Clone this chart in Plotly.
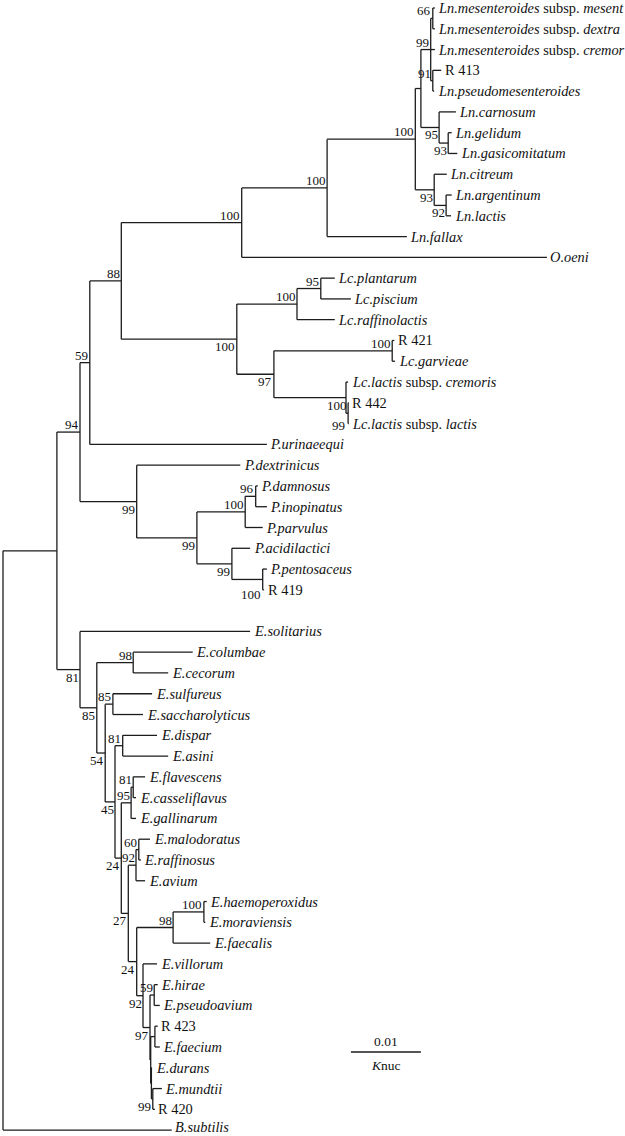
import plotly.graph_objects as go

# ---------------- data ----------------
# leaves (top to bottom); distance from root in 10^-3 substitutions/site
LEAF_IDS = [
    "mesent", "dextra", "cremor", "R413", "pseudomes", "carnosum", "gelidum",
    "gasicomitatum", "citreum", "argentinum", "Ln_lactis", "fallax", "oeni",
    "plantarum", "piscium", "raffinolactis", "R421", "garvieae", "Lc_cremoris",
    "R442", "Lc_lactis", "urinaeequi", "dextrinicus", "damnosus", "inopinatus",
    "parvulus", "acidilactici", "pentosaceus", "R419",
    "solitarius", "columbae", "cecorum", "sulfureus", "saccharolyticus", "dispar",
    "asini", "flavescens", "casseliflavus", "gallinarum", "malodoratus",
    "raffinosus", "avium", "haemoperoxidus", "moraviensis", "faecalis",
    "villorum", "hirae", "pseudoavium", "R423", "faecium", "durans", "mundtii",
    "R420", "subtilis",
]
LEAF_TEXT = [
    "<i>Ln.mesenteroides</i> subsp. <i>mesent</i>",
    "<i>Ln.mesenteroides</i> subsp. <i>dextra</i>",
    "<i>Ln.mesenteroides</i> subsp. <i>cremor</i>",
    "R 413", "<i>Ln.pseudomesenteroides</i>", "<i>Ln.carnosum</i>",
    "<i>Ln.gelidum</i>", "<i>Ln.gasicomitatum</i>", "<i>Ln.citreum</i>",
    "<i>Ln.argentinum</i>", "<i>Ln.lactis</i>", "<i>Ln.fallax</i>", "<i>O.oeni</i>",
    "<i>Lc.plantarum</i>", "<i>Lc.piscium</i>", "<i>Lc.raffinolactis</i>", "R 421",
    "<i>Lc.garvieae</i>", "<i>Lc.lactis</i> subsp. <i>cremoris</i>", "R 442",
    "<i>Lc.lactis</i> subsp. <i>lactis</i>", "<i>P.urinaeequi</i>",
    "<i>P.dextrinicus</i>", "<i>P.damnosus</i>", "<i>P.inopinatus</i>",
    "<i>P.parvulus</i>", "<i>P.acidilactici</i>", "<i>P.pentosaceus</i>", "R 419",
    "<i>E.solitarius</i>", "<i>E.columbae</i>", "<i>E.cecorum</i>",
    "<i>E.sulfureus</i>", "<i>E.saccharolyticus</i>", "<i>E.dispar</i>",
    "<i>E.asini</i>", "<i>E.flavescens</i>", "<i>E.casseliflavus</i>",
    "<i>E.gallinarum</i>", "<i>E.malodoratus</i>", "<i>E.raffinosus</i>",
    "<i>E.avium</i>", "<i>E.haemoperoxidus</i>", "<i>E.moraviensis</i>",
    "<i>E.faecalis</i>", "<i>E.villorum</i>", "<i>E.hirae</i>",
    "<i>E.pseudoavium</i>", "R 423", "<i>E.faecium</i>", "<i>E.durans</i>",
    "<i>E.mundtii</i>", "R 420", "<i>B.subtilis</i>",
]
LEAF_ROW = list(range(0, 29)) + list(range(30, 55))
LEAF_DIST = [
    61.7, 61.7, 61.7, 62.6, 61.6, 64.7, 64.1, 64.9, 63.4, 64.1, 64.0, 57.7, 77.7,
    47.4, 49.7, 47.4, 55.9, 56.0, 49.3, 49.4, 49.4, 37.7, 33.9, 36.4, 37.7,
    37.1, 35.3, 37.7, 37.3,
    35.3, 27.1, 23.6, 21.3, 20.0, 22.0, 23.6, 20.3, 19.0, 19.0, 21.0, 19.7,
    20.3, 29.1, 28.9, 29.6, 22.0, 22.1, 22.4, 22.1, 22.4, 21.3, 22.7, 21.7, 24.1,
]

# internal nodes: children (top to bottom), distance from root, bootstrap support
NODE_IDS = [
    "n66", "n91", "n99m", "n93", "n95", "nX", "n92", "n93b", "n100c", "n100b",
    "n100a", "Lc95", "Lc100b", "nR421", "nR442i", "nR442o", "Lc97", "Lc100",
    "n88", "n59", "P96", "P100", "P100b", "P99c", "P99b", "P99", "n94",
    "n98", "n85b", "n81b", "n81c", "n95E", "n60", "n92E", "n100E", "n98b",
    "n59E", "nRF", "n99b", "n_d", "n_c", "n97", "n92b", "n24b", "n27", "n24a",
    "n45", "n54", "n85a", "n81", "A", "root",
]
NODE_CHILDREN = [
    ["mesent", "dextra"], ["R413", "pseudomes"], ["n66", "cremor", "n91"],
    ["gelidum", "gasicomitatum"], ["carnosum", "n93"], ["n99m", "n95"],
    ["argentinum", "Ln_lactis"], ["citreum", "n92"], ["nX", "n93b"],
    ["n100c", "fallax"], ["n100b", "oeni"], ["plantarum", "piscium"],
    ["Lc95", "raffinolactis"], ["R421", "garvieae"], ["R442", "Lc_lactis"],
    ["Lc_cremoris", "nR442i"], ["nR421", "nR442o"], ["Lc100b", "Lc97"],
    ["n100a", "Lc100"], ["n88", "urinaeequi"], ["damnosus", "inopinatus"],
    ["P96", "parvulus"], ["pentosaceus", "R419"], ["acidilactici", "P100b"],
    ["P100", "P99c"], ["dextrinicus", "P99b"], ["n59", "P99"],
    ["columbae", "cecorum"], ["sulfureus", "saccharolyticus"], ["dispar", "asini"],
    ["flavescens", "casseliflavus"], ["n81c", "gallinarum"],
    ["malodoratus", "raffinosus"], ["n60", "avium"],
    ["haemoperoxidus", "moraviensis"], ["n100E", "faecalis"],
    ["hirae", "pseudoavium"], ["R423", "faecium"], ["mundtii", "R420"],
    ["durans", "n99b"], ["nRF", "n_d"], ["n59E", "n_c"], ["villorum", "n97"],
    ["n98b", "n92b"], ["n92E", "n24b"], ["n95E", "n27"], ["n81b", "n24a"],
    ["n85b", "n45"], ["n98", "n54"], ["solitarius", "n85a"], ["n94", "n81"],
    ["A", "subtilis"],
]
NODE_DIST = [
    61.4, 61.4, 61.1, 63.6, 62.3, 59.7, 63.3, 61.6, 58.9, 46.3,
    34.1, 45.4, 42.0, 55.6, 49.3, 49.0, 38.7, 33.4,
    16.9, 12.4, 36.1, 34.6, 37.1, 32.7, 27.7, 19.1, 11.0,
    18.6, 15.7, 17.1, 18.6, 18.3, 19.4, 19.0, 28.7, 24.3,
    21.6, 21.7, 21.4, 21.2, 21.1, 21.0, 20.0, 19.1, 17.9, 16.9,
    16.0, 14.6, 13.4, 11.0, 7.7, 0.0,
]
NODE_SUPPORT = [
    "66", "91", "99", "93", "95", "", "92", "93", "100", "100",
    "100", "95", "100", "100", "100", "99", "97", "100",
    "88", "59", "96", "100", "100", "99", "99", "99", "94",
    "98", "85", "81", "81", "95", "60", "92", "100", "98",
    "59", "", "99", "", "", "97", "92", "24", "27", "24",
    "45", "54", "85", "81", "", "",
]

SCALE_BAR_VALUE = 10.0          # 0.01 substitutions/site in 10^-3 units
SCALE_BAR_TEXT = "0.01"
SCALE_BAR_UNIT = "<i>K</i>nuc"

# ---------------- style ----------------
FONT = "Liberation Serif"
LINE_COLOR = "#1c1c1c"
BELOW = {"n93", "n95", "n93b", "n92", "nR442o", "Lc97", "Lc100", "P100b", "P99c",
         "P99b", "P99", "n99b", "n97", "n92b", "n24b", "n27", "n24a", "n45",
         "n54", "n85a", "n81"}
LABEL_YSHIFT = {"nR442o": -20, "P100b": -8}
LEAF_YSHIFT = {"subtilis": 3}
PX_PER_UNIT = 7.0
ROW_PX = 20.78
W, H = 625, 1136
SCALE_POS = (49.7, 50.24)   # left end of scale bar (distance units, row units)

# ---------------- layout of tree ----------------
pos = {}
for lid, d, r in zip(LEAF_IDS, LEAF_DIST, LEAF_ROW):
    pos[lid] = (d, r)
node_info = dict(zip(NODE_IDS, zip(NODE_CHILDREN, NODE_DIST, NODE_SUPPORT)))


def place(n):
    if n in pos:
        return pos[n]
    ch, d, _ = node_info[n]
    ys = [place(c)[1] for c in ch]
    pos[n] = (d, (ys[0] + ys[-1]) / 2.0)
    return pos[n]


place("root")

xs, ys = [], []
for nid in NODE_IDS:
    ch, d, _ = node_info[nid]
    cy = [pos[c][1] for c in ch]
    xs += [d, d, None]
    ys += [cy[0], cy[-1], None]
    for c in ch:
        xs += [d, pos[c][0], None]
        ys += [pos[c][1], pos[c][1], None]

fig = go.Figure()
fig.add_trace(go.Scatter(x=xs, y=ys, mode="lines",
                         line=dict(color=LINE_COLOR, width=1.3),
                         hoverinfo="skip", showlegend=False))

# scale bar
sx, sy = SCALE_POS
fig.add_trace(go.Scatter(x=[sx, sx + SCALE_BAR_VALUE], y=[sy, sy], mode="lines",
                         line=dict(color=LINE_COLOR, width=1.3),
                         hoverinfo="skip", showlegend=False))

ann = []
for lid, txt in zip(LEAF_IDS, LEAF_TEXT):
    d, r = pos[lid]
    ann.append(dict(x=d, y=r, text=txt, showarrow=False, xanchor="left",
                    yanchor="middle", xshift=1.5, yshift=LEAF_YSHIFT.get(lid, 0),
                    font=dict(family=FONT, size=14.4, color="#111")))
for nid in NODE_IDS:
    ch, d, sup = node_info[nid]
    if not sup:
        continue
    below = nid in BELOW
    ann.append(dict(x=d, y=pos[nid][1], text=sup, showarrow=False,
                    xanchor="right", yanchor="top" if below else "bottom",
                    xshift=-0.5, yshift=LABEL_YSHIFT.get(nid, 0) + (1 if below else -1),
                    borderpad=0,
                    font=dict(family=FONT, size=13, color="#111")))
ann.append(dict(x=sx + SCALE_BAR_VALUE / 2, y=sy, text=SCALE_BAR_TEXT, showarrow=False,
                xanchor="center", yanchor="bottom", yshift=1,
                font=dict(family=FONT, size=13.5, color="#111")))
ann.append(dict(x=sx + SCALE_BAR_VALUE / 2, y=sy, text=SCALE_BAR_UNIT, showarrow=False,
                xanchor="center", yanchor="top", yshift=-4,
                font=dict(family=FONT, size=13.5, color="#111")))

x0 = -3 / PX_PER_UNIT
x1 = x0 + W / PX_PER_UNIT
r0 = -8 / ROW_PX
r1 = r0 + H / ROW_PX

fig.update_layout(
    width=W, height=H, margin=dict(l=0, r=0, t=0, b=0),
    paper_bgcolor="white", plot_bgcolor="white",
    xaxis=dict(range=[x0, x1], visible=False, fixedrange=True),
    yaxis=dict(range=[r1, r0], visible=False, fixedrange=True),
    annotations=ann, showlegend=False,
)
fig.write_html("out.html", config={"staticPlot": True},
               post_script="document.body.style.margin='0';"
                           "document.body.style.overflow='hidden';")
